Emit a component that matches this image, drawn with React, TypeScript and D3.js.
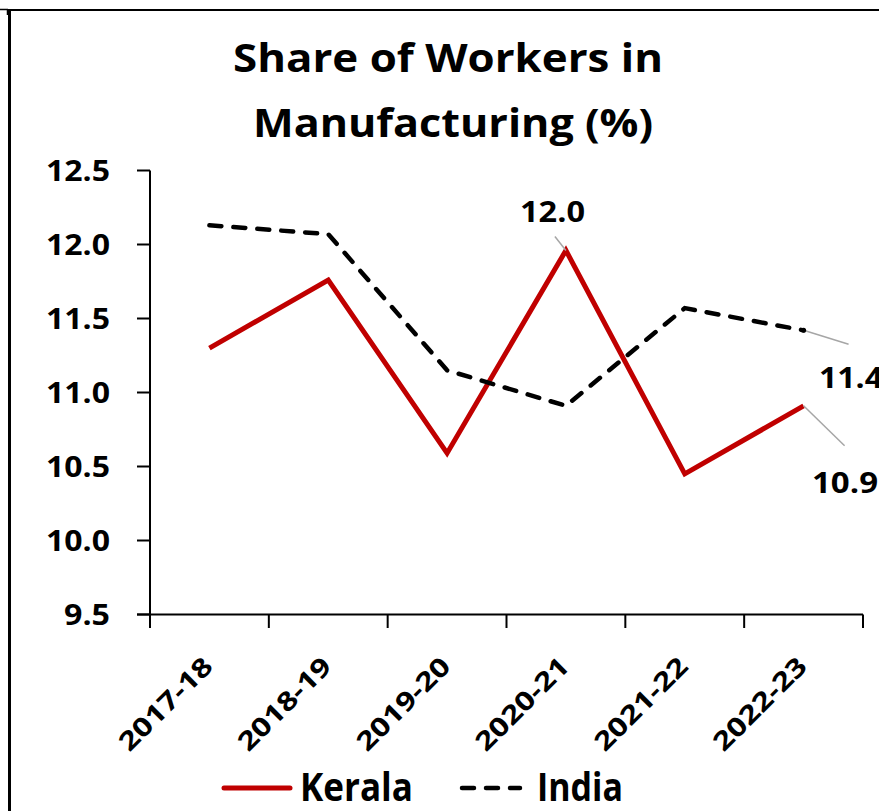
import React from "react";
import * as d3 from "d3";

const categories = ["2017-18", "2018-19", "2019-20", "2020-21", "2021-22", "2022-23"];
const keralaValues = [11.3, 11.76, 10.59, 11.96, 10.45, 10.91];
const indiaValues = [12.13, 12.07, 11.15, 10.91, 11.57, 11.42];
const yTicks = [9.5, 10.0, 10.5, 11.0, 11.5, 12.0, 12.5];
const titleLines = ["Share of Workers in", "Manufacturing (%)"];
const seriesNames = ["Kerala", "India"];

const W = 879;
const H = 811;
const FONT = "'Open Sans', Lato, sans-serif";

export default function App() {
  const x = d3.scaleBand<string>().domain(categories).range([150, 863]);
  const y = d3.scaleLinear().domain([9.5, 12.5]).range([614.5, 170.5]);
  const cx = (c: string) => (x(c) as number) + x.bandwidth() / 2;
  const fmt = d3.format(".1f");

  const line = d3
    .line<number>()
    .x((_, i) => cx(categories[i]))
    .y((d) => y(d));

  const boundaries = categories.map((c) => x(c) as number).concat([x.range()[1]]);

  const lastI = categories.length - 1;
  const kPeakI = keralaValues.indexOf(d3.max(keralaValues) as number);

  return (
    <svg
      width={W}
      height={H}
      style={{ position: "absolute", left: 0, top: 0, background: "#fff" }}
      fontFamily={FONT}
    >
      {/* frame */}
      <line x1={9.5} y1={9} x2={9.5} y2={H} stroke="#000" strokeWidth={3} />
      <line x1={8} y1={10} x2={W} y2={10} stroke="#000" strokeWidth={2} />
      <line x1={0} y1={9.5} x2={8} y2={9.5} stroke="#000" strokeWidth={1.5} />
      <line x1={7.5} y1={9} x2={7.5} y2={15} stroke="#000" strokeWidth={1.5} />

      {/* title */}
      <text x={233} y={72} fontSize={40} fontWeight={700} fill="#000" textLength={430} lengthAdjust="spacingAndGlyphs">
        {titleLines[0]}
      </text>
      <text x={253} y={137} fontSize={40} fontWeight={700} fill="#000" textLength={400} lengthAdjust="spacingAndGlyphs">
        {titleLines[1]}
      </text>

      {/* y axis */}
      <line x1={150} y1={y(12.5)} x2={150} y2={628} stroke="#000" strokeWidth={2} />
      {yTicks.map((t) => (
        <g key={t}>
          <line x1={137} x2={150} y1={y(t)} y2={y(t)} stroke="#000" strokeWidth={2} />
          <text
            x={110}
            y={y(t)}
            dy="0.36em"
            textAnchor="end"
            fontSize={28}
            fontWeight={700}
            fill="#000"
            textLength={t < 10 ? 46 : 64}
            lengthAdjust="spacingAndGlyphs"
          >
            {fmt(t)}
          </text>
        </g>
      ))}

      {/* x axis */}
      <line x1={137} x2={x.range()[1]} y1={y(9.5)} y2={y(9.5)} stroke="#000" strokeWidth={2} />
      {boundaries.map((b, i) => (
        <line key={i} x1={b} x2={b} y1={y(9.5)} y2={628} stroke="#000" strokeWidth={2} />
      ))}
      {categories.map((c) => (
        <text
          key={c}
          transform={`translate(${cx(c) + 5},${668}) rotate(-45)`}
          textAnchor="end"
          fontSize={26}
          fontWeight={700}
          fill="#000"
          textLength={120}
          lengthAdjust="spacingAndGlyphs"
        >
          {c}
        </text>
      ))}

      {/* series */}
      <path d={line(keralaValues) as string} fill="none" stroke="#c00000" strokeWidth={5} strokeLinejoin="miter" />
      <path
        d={line(indiaValues) as string}
        fill="none"
        stroke="#000"
        strokeWidth={4.5}
        strokeDasharray="12 12"
        strokeLinecap="round"
      />

      {/* data labels with leader lines */}
      <line
        x1={cx(categories[kPeakI]) - 11}
        y1={y(keralaValues[kPeakI]) - 14}
        x2={cx(categories[kPeakI])}
        y2={y(keralaValues[kPeakI])}
        stroke="#a6a6a6"
        strokeWidth={1.5}
      />
      <text
        x={520}
        y={221.5}
        fontSize={28}
        fontWeight={700}
        fill="#000"
        textLength={65}
        lengthAdjust="spacingAndGlyphs"
      >
        {fmt(keralaValues[kPeakI])}
      </text>

      <line
        x1={cx(categories[lastI])}
        y1={y(indiaValues[lastI])}
        x2={cx(categories[lastI]) + 45}
        y2={y(indiaValues[lastI]) + 14}
        stroke="#a6a6a6"
        strokeWidth={1.5}
      />
      <circle cx={cx(categories[lastI])} cy={y(indiaValues[lastI])} r={2.5} fill="#000" />
      <text x={819} y={388} fontSize={28} fontWeight={700} fill="#000" textLength={64} lengthAdjust="spacingAndGlyphs">
        {fmt(indiaValues[lastI])}
      </text>

      <line
        x1={cx(categories[lastI])}
        y1={y(keralaValues[lastI])}
        x2={cx(categories[lastI]) + 41}
        y2={y(keralaValues[lastI]) + 40}
        stroke="#a6a6a6"
        strokeWidth={1.5}
      />
      <text x={812} y={493} fontSize={28} fontWeight={700} fill="#000" textLength={66} lengthAdjust="spacingAndGlyphs">
        {fmt(keralaValues[lastI])}
      </text>

      {/* legend */}
      <line x1={224} x2={290} y1={788} y2={788} stroke="#c00000" strokeWidth={5} strokeLinecap="round" />
      <text x={300} y={801} fontSize={39} fontWeight={700} fill="#000" textLength={113} lengthAdjust="spacingAndGlyphs">
        {seriesNames[0]}
      </text>
      <line
        x1={462}
        x2={520}
        y1={788}
        y2={788}
        stroke="#000"
        strokeWidth={4.5}
        strokeDasharray="12 12"
        strokeLinecap="round"
      />
      <text x={537} y={801} fontSize={39} fontWeight={700} fill="#000" textLength={86} lengthAdjust="spacingAndGlyphs">
        {seriesNames[1]}
      </text>
    </svg>
  );
}
